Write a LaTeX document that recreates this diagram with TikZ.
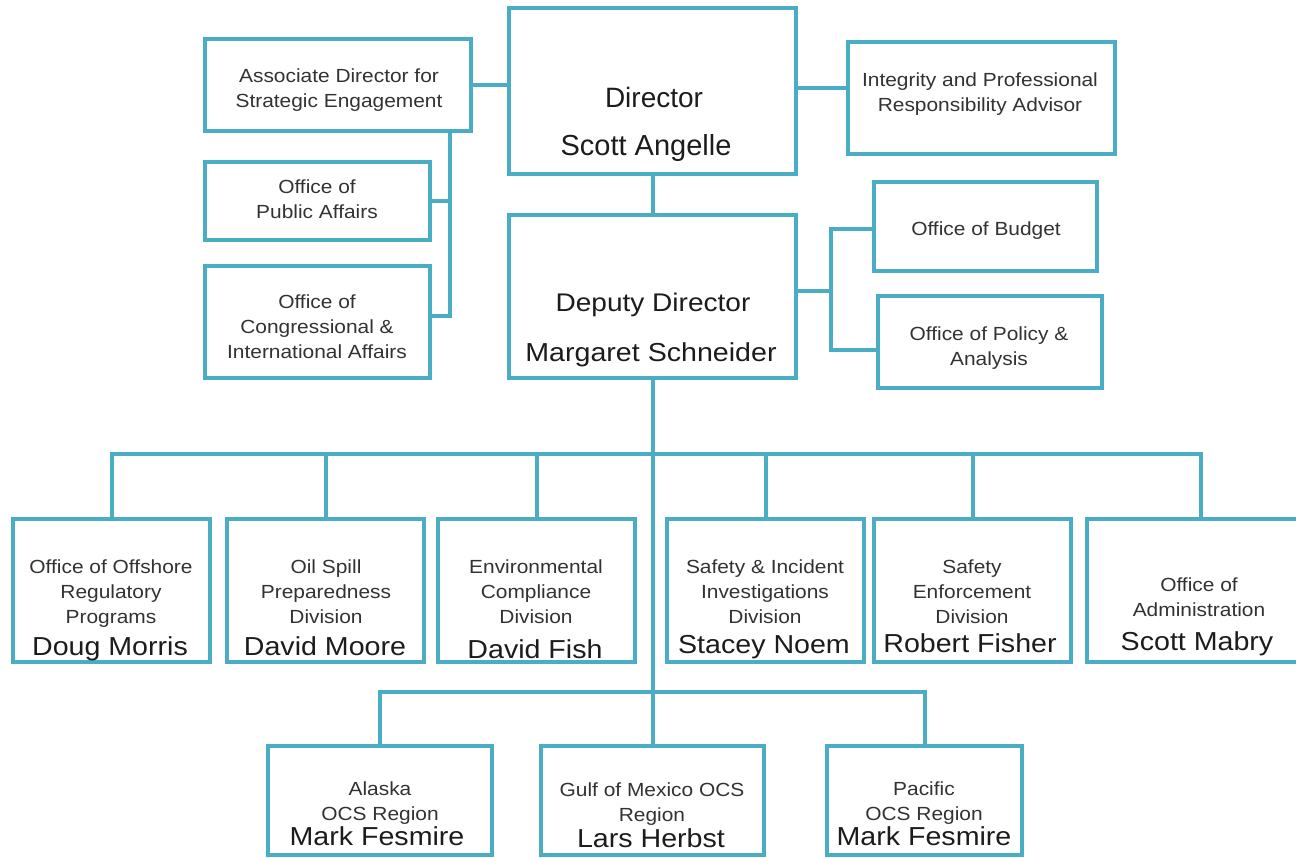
\documentclass[tikz,border=0pt]{standalone}
\usepackage{fontspec}
\setmainfont{Liberation Sans}
\newfontfamily\widesans{Liberation Sans}[FakeStretch=1.1]
\definecolor{lineblue}{RGB}{75,172,198}
\definecolor{txtgray}{RGB}{50,50,50}
\definecolor{txtdark}{RGB}{28,28,28}
\newcommand\obox[5]{\node[obox, minimum width={(#4-#2)*1pt}, minimum height={(#5-#3)*1pt}] (#1) at (#2,#3) {};}
\begin{document}
\begin{tikzpicture}[x=1pt,y=-1pt,
  obox/.style={draw=lineblue, line width=4pt, rectangle, inner sep=0pt, outer sep=0pt, anchor=north west},
  conn/.style={draw=lineblue, line width=4pt},
  small/.style={font=\widesans\fontsize{19}{25}\selectfont, text=txtgray, align=center, anchor=north, inner sep=0pt},
  pname/.style={font=\widesans\fontsize{26}{30}\selectfont, text=txtdark, anchor=base, inner sep=0pt},
  dname/.style={font=\widesans\fontsize{26}{30}\selectfont, text=txtdark, anchor=base, inner sep=0pt},
  ttl/.style={font=\fontsize{28}{32}\selectfont, text=txtdark, anchor=base, inner sep=0pt}]
\useasboundingbox (0,0) rectangle (1296,858);
\clip (0,0) rectangle (1296,858);

% boxes
\obox{assoc}{205}{39}{471}{131}
\obox{director}{509}{8.5}{796}{174}
\obox{integrity}{848}{42.5}{1115}{154}
\obox{public}{205}{162.5}{430}{240}
\obox{congress}{205}{266.5}{430}{378}
\obox{deputy}{509}{215}{796}{378}
\obox{budget}{874}{182.5}{1097}{271}
\obox{policy}{878}{296.5}{1102}{388}
\obox{r1}{13}{518.5}{210}{661.5}
\obox{r2}{227}{518.5}{424}{661.5}
\obox{r3}{438}{518.5}{635}{661.5}
\obox{r4}{667}{518.5}{864}{661.5}
\obox{r5}{874}{518.5}{1071}{661.5}
\obox{r6}{1087}{518.5}{1314}{661.5}
\obox{b1}{268}{745.5}{492}{855}
\obox{b2}{541}{745.5}{764}{855}
\obox{b3}{827}{745.5}{1022}{855}

% junction coordinates
\coordinate (spL) at (450,316);
\coordinate (ij) at (822,88);
\coordinate (dj) at (831,291);
\coordinate (bj) at (831,229);
\coordinate (pj) at (831,350);
\coordinate (bus1) at (652,454);
\coordinate (bus2) at (652,692);

% connectors
\draw[conn] (assoc.east) -- (assoc.east -| director.west);
\draw[conn] (spL |- assoc.south) -- (spL) -- (spL -| congress.east);
\draw[conn] (public.east) -- (public.east -| spL);
\draw[conn] (ij -| director.east) -- (ij -| integrity.west);
\draw[conn] (director.south) -- (director.south |- deputy.north);
\draw[conn] (dj -| deputy.east) -- (dj);
\draw[conn] (bj -| budget.west) -- (bj) -- (pj) -- (pj -| policy.west);
\draw[conn] (deputy.south) -- (deputy.south |- bus2);
\draw[conn] (r1.north) -- (r1.north |- bus1) -- (r6.north |- bus1) -- (r6.north);
\draw[conn] (r2.north) -- (r2.north |- bus1);
\draw[conn] (r3.north) -- (r3.north |- bus1);
\draw[conn] (r4.north) -- (r4.north |- bus1);
\draw[conn] (r5.north) -- (r5.north |- bus1);
\draw[conn] (b1.north) -- (b1.north |- bus2) -- (b3.north |- bus2) -- (b3.north);
\draw[conn] (b2.north) -- (b2.north |- bus2);

% texts
\node[small] (t-assoc) at (339,68.3) {Associate Director for\\Strategic Engagement};
\node[small] (t-public) at (317,179.3) {Office of\\Public Affairs};
\node[small] (t-congress) at (317,294.3) {Office of\\Congressional \&\\International Affairs};
\node[small] (t-integrity) at (980,72.3) {Integrity and Professional\\Responsibility Advisor};
\node[small] (t-budget) at (986,221.3) {Office of Budget};
\node[small] (t-policy) at (989,326.3) {Office of Policy \&\\Analysis};
\node[ttl] (t-director) at (654,108) {Director};
\node[ttl, font=\fontsize{29}{32}\selectfont] (n-director) at (646,156) {Scott Angelle};
\node[dname, font=\widesans\fontsize{25.5}{30}\selectfont] (t-deputy) at (653,311.7) {Deputy Director};
\node[dname] (n-deputy) at (651,361.7) {Margaret Schneider};

\node[small] (t-r1) at (111,559.3) {Office of Offshore\\Regulatory\\Programs};
\node[small] (t-r2) at (326,559.3) {Oil Spill\\Preparedness\\Division};
\node[small] (t-r3) at (536,559.3) {Environmental\\Compliance\\Division};
\node[small] (t-r4) at (765,559.3) {Safety \& Incident\\Investigations\\Division};
\node[small] (t-r5) at (972,559.3) {Safety\\Enforcement\\Division};
\node[small] (t-r6) at (1199,577.3) {Office of\\Administration};
\node[pname] (n-r1) at (110,655) {Doug Morris};
\node[pname] (n-r2) at (325,655) {David Moore};
\node[pname] (n-r3) at (535,658) {David Fish};
\node[pname] (n-r4) at (764,653) {Stacey Noem};
\node[pname] (n-r5) at (970,652) {Robert Fisher};
\node[pname] (n-r6) at (1197,650) {Scott Mabry};

\node[small] (t-b1) at (380,781.3) {Alaska\\OCS Region};
\node[small] (t-b2) at (652,782.3) {Gulf of Mexico OCS\\Region};
\node[small] (t-b3) at (924,781.3) {Pacific\\OCS Region};
\node[pname] (n-b1) at (377,845) {Mark Fesmire};
\node[pname] (n-b2) at (651,847) {Lars Herbst};
\node[pname] (n-b3) at (924,845) {Mark Fesmire};
\end{tikzpicture}
\end{document}
